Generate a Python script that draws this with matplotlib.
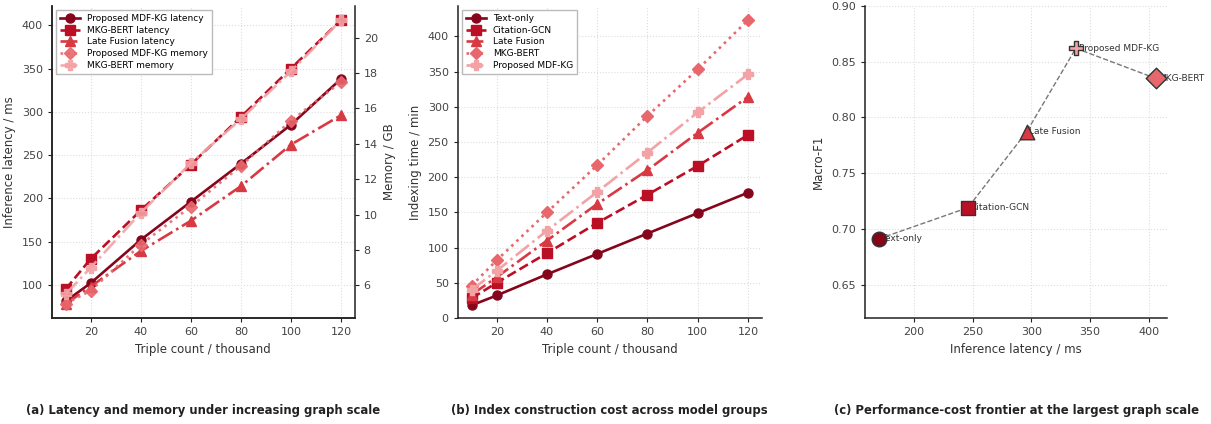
import matplotlib
matplotlib.use("Agg")
import matplotlib.pyplot as plt

# ---- data ----
triples = [10, 20, 40, 60, 80, 100, 120]

lat_proposed = [81, 102, 152, 196, 240, 285, 338]
lat_mkgbert = [95, 130, 186, 239, 294, 350, 406]
lat_latefusion = [78, 98, 139, 174, 214, 262, 296]
mem_proposed = [4.95, 5.7, 8.3, 10.45, 12.75, 15.3, 17.5]
mem_mkgbert = [5.5, 7.0, 10.1, 12.9, 15.4, 18.1, 21.0]

idx_textonly = [18, 32, 62, 91, 120, 149, 178]
idx_citgcn = [28, 50, 92, 135, 175, 216, 260]
idx_latefusion = [33, 58, 110, 162, 210, 263, 314]
idx_mkgbert = [46, 82, 150, 217, 287, 353, 423]
idx_proposed = [40, 67, 124, 179, 235, 292, 346]

models = ["Text-only", "Citation-GCN", "Late Fusion", "Proposed MDF-KG", "MKG-BERT"]
front_latency = [170, 246, 296, 338, 406]
front_f1 = [0.691, 0.719, 0.787, 0.862, 0.835]

captions = ["(a) Latency and memory under increasing graph scale",
            "(b) Index construction cost across model groups",
            "(c) Performance-cost frontier at the largest graph scale"]

# ---- style ----
C1, C2, C3, C4, C5 = "#85061c", "#bb0f26", "#d83a44", "#e8676c", "#f3a2a5"
plt.rcParams.update({
    "font.family": ["DejaVu Sans"],
    "font.size": 8,
    "axes.edgecolor": "#222222",
    "axes.linewidth": 1.1,
    "xtick.color": "#222222",
    "ytick.color": "#222222",
    "xtick.labelcolor": "#444444",
    "ytick.labelcolor": "#444444",
    "axes.labelcolor": "#333333",
})

fig = plt.figure(figsize=(12.11, 4.24), dpi=100)
ax_a = fig.add_axes([0.0429, 0.25, 0.250, 0.736])
ax_b = fig.add_axes([0.378, 0.25, 0.251, 0.736])
ax_c = fig.add_axes([0.714, 0.25, 0.250, 0.736])

def style(ax):
    ax.grid(True, color="#dddddd", linestyle=":", linewidth=0.8)
    ax.spines["top"].set_visible(False)
    ax.tick_params(labelsize=8, length=3)
    ax.set_axisbelow(True)

ms = 6.5
lw = 1.9
# ---- panel a ----
style(ax_a)
ax_a.spines["right"].set_visible(False)
h1, = ax_a.plot(triples, lat_proposed, "-", marker="o", color=C1, lw=lw, ms=ms, label="Proposed MDF-KG latency")
h2, = ax_a.plot(triples, lat_mkgbert, "--", marker="s", color=C2, lw=lw, ms=ms, label="MKG-BERT latency")
h3, = ax_a.plot(triples, lat_latefusion, "-.", marker="^", color=C3, lw=lw, ms=ms, label="Late Fusion latency")
ax_a.set_xlabel("Triple count / thousand", fontsize=8.5)
ax_a.set_ylabel("Inference latency / ms", fontsize=8.5)
ax_a.set_xticks([20, 40, 60, 80, 100, 120])
ax_a.set_xlim(4.5, 125.5)
ax_a2 = ax_a.twinx()
ax_a2.spines["top"].set_visible(False)
ax_a2.tick_params(labelsize=8, length=3)
h4, = ax_a2.plot(triples, mem_proposed, ":", marker="D", color=C4, lw=lw, ms=ms - 0.5, alpha=0.9, label="Proposed MDF-KG memory")
h5, = ax_a2.plot(triples, mem_mkgbert, "-.", marker="P", color=C5, lw=lw, ms=ms, alpha=0.9, label="MKG-BERT memory")
ax_a2.set_ylabel("Memory / GB", fontsize=8.5)
ax_a.legend(handles=[h1, h2, h3, h4, h5], loc="upper left", fontsize=6.5,
            frameon=True, fancybox=False, edgecolor="#bbbbbb", framealpha=1,
            handlelength=2.2, borderpad=0.4, labelspacing=0.3)

# ---- panel b ----
style(ax_b)
ax_b.spines["right"].set_visible(False)
ax_b.plot(triples, idx_textonly, "-", marker="o", color=C1, lw=lw, ms=ms, label="Text-only")
ax_b.plot(triples, idx_citgcn, "--", marker="s", color=C2, lw=lw, ms=ms, label="Citation-GCN")
ax_b.plot(triples, idx_latefusion, "-.", marker="^", color=C3, lw=lw, ms=ms, label="Late Fusion")
ax_b.plot(triples, idx_mkgbert, ":", marker="D", color=C4, lw=lw, ms=ms - 0.5, label="MKG-BERT")
ax_b.plot(triples, idx_proposed, "-.", marker="P", color=C5, lw=lw, ms=ms, label="Proposed MDF-KG")
ax_b.set_ylim(bottom=0)
ax_b.set_xlim(4.5, 125.5)
ax_b.set_xticks([20, 40, 60, 80, 100, 120])
ax_b.set_xlabel("Triple count / thousand", fontsize=8.5)
ax_b.set_ylabel("Indexing time / min", fontsize=8.5)
ax_b.legend(loc="upper left", fontsize=6.5, frameon=True, fancybox=False,
            edgecolor="#bbbbbb", framealpha=1, handlelength=2.2,
            borderpad=0.4, labelspacing=0.3)

# ---- panel c ----
style(ax_c)
ax_c.spines["right"].set_visible(False)
order = sorted(range(len(models)), key=lambda i: front_latency[i])
ax_c.plot([front_latency[i] for i in order], [front_f1[i] for i in order],
          "--", color="#777777", lw=1.0, zorder=2)
mk = ["o", "s", "^", "P", "D"]
cols = [C1, C2, C3, C5, C4]
for i, m in enumerate(models):
    ax_c.scatter(front_latency[i], front_f1[i], s=110, marker=mk[i], color=cols[i],
                 edgecolor="#333333", linewidth=1.0, zorder=4)
    ax_c.annotate(m, (front_latency[i], front_f1[i]), xytext=(2, 0),
                  textcoords="offset points", va="center", ha="left",
                  fontsize=6.5, color="#333333", zorder=3)
ax_c.set_ylim(0.62, 0.90)
ax_c.set_xlim(158, 416)
ax_c.set_xticks([200, 250, 300, 350, 400])
ax_c.set_xlabel("Inference latency / ms", fontsize=8.5)
ax_c.set_ylabel("Macro-F1", fontsize=8.5)

# ---- captions ----
for ax, cap in zip([ax_a, ax_b, ax_c], captions):
    pos = ax.get_position()
    fig.text((pos.x0 + pos.x1) / 2, 0.033, cap, ha="center", va="center",
             fontsize=8.4, fontweight="bold", color="#222222")

fig.savefig("out.png", dpi=100)
